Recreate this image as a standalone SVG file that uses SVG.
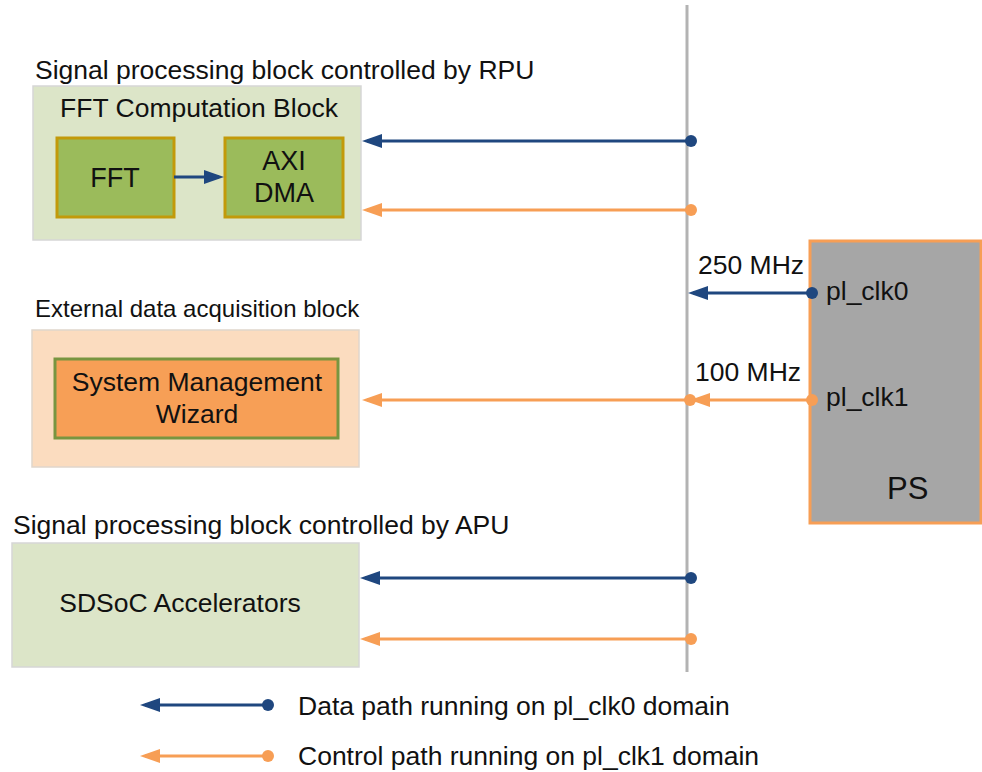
<svg xmlns="http://www.w3.org/2000/svg" width="982" height="772" viewBox="0 0 982 772">
<style>
text{font-family:"Liberation Sans",Arial,sans-serif;fill:#111;font-size:26.5px}
.blue{stroke:#1f477f;stroke-width:3;fill:none}
.org{stroke:#f79e55;stroke-width:3;fill:none}
.grp{fill:#dce5c8;stroke:#d6d6d6;stroke-width:1.5}
.green{fill:#9bbb5b;stroke:#c29a0a;stroke-width:3}
</style>
<defs>
<marker id="ab" viewBox="0 0 20 14" refX="15" refY="7" markerWidth="20" markerHeight="14" markerUnits="userSpaceOnUse" orient="auto"><path d="M0,0 L20,7 L0,14 Z" fill="#1f477f"/></marker>
<marker id="ao" viewBox="0 0 20 14" refX="15" refY="7" markerWidth="20" markerHeight="14" markerUnits="userSpaceOnUse" orient="auto"><path d="M0,0 L20,7 L0,14 Z" fill="#f79e55"/></marker>
<marker id="db" viewBox="0 0 12 12" refX="6" refY="6" markerWidth="12" markerHeight="12" markerUnits="userSpaceOnUse"><circle cx="6" cy="6" r="6" fill="#1f477f"/></marker>
<marker id="do" viewBox="0 0 12 12" refX="6" refY="6" markerWidth="12" markerHeight="12" markerUnits="userSpaceOnUse"><circle cx="6" cy="6" r="6" fill="#f79e55"/></marker>
</defs>
<rect width="982" height="772" fill="#fff"/>

<g id="rpu">
<text x="35" y="79">Signal processing block controlled by RPU</text>
<rect class="grp" x="33" y="86" width="328" height="154"/>
<text x="199" y="117" text-anchor="middle">FFT Computation Block</text>
</g>
<g id="fft">
<rect class="green" x="57" y="138" width="117" height="79"/>
<text x="115" y="187" text-anchor="middle" style="font-size:27px">FFT</text>
</g>
<g id="axidma">
<rect class="green" x="225" y="138" width="118" height="79"/>
<text x="284" y="170" text-anchor="middle" style="font-size:27px">AXI</text>
<text x="284" y="202" text-anchor="middle" style="font-size:27px">DMA</text>
</g>

<g id="ext">
<text x="35" y="317" style="font-size:24px">External data acquisition block</text>
<rect x="32" y="330" width="327" height="137" fill="#fbdcbf" stroke="#e0d6cc" stroke-width="1.5"/>
</g>
<g id="smw">
<rect x="55" y="359" width="283" height="79" fill="#f79f56" stroke="#789540" stroke-width="3"/>
<text x="197" y="391" text-anchor="middle">System Management</text>
<text x="197" y="423" text-anchor="middle">Wizard</text>
</g>

<g id="apu">
<text x="13" y="534">Signal processing block controlled by APU</text>
<rect class="grp" x="12" y="543" width="347" height="124"/>
<text x="180" y="612" text-anchor="middle">SDSoC Accelerators</text>
</g>

<g id="ps">
<rect x="810" y="241" width="171" height="282" fill="#a6a6a6" stroke="#f79e55" stroke-width="3"/>
<text x="826" y="300">pl_clk0</text>
<text x="826" y="406">pl_clk1</text>
<text x="887" y="499" style="font-size:31px">PS</text>
</g>

<g id="bus">
<line x1="687" y1="5" x2="687" y2="672" stroke="#b3b3b3" stroke-width="3"/>
</g>

<g id="connectors">
<line class="blue" x1="174" y1="177" x2="219" y2="177" marker-end="url(#ab)"/>
<line class="blue" x1="691" y1="141" x2="367" y2="141" marker-start="url(#db)" marker-end="url(#ab)"/>
<line class="org" x1="691" y1="210" x2="367" y2="210" marker-start="url(#do)" marker-end="url(#ao)"/>
<line class="blue" x1="812" y1="293" x2="693" y2="293" marker-start="url(#db)" marker-end="url(#ab)"/>
<line class="org" x1="812" y1="400" x2="695" y2="400" marker-start="url(#do)" marker-end="url(#ao)"/>
<line class="org" x1="690" y1="400" x2="367" y2="400" marker-start="url(#do)" marker-end="url(#ao)"/>
<line class="blue" x1="691" y1="578" x2="365" y2="578" marker-start="url(#db)" marker-end="url(#ab)"/>
<line class="org" x1="691" y1="639" x2="365" y2="639" marker-start="url(#do)" marker-end="url(#ao)"/>
<line class="blue" x1="268" y1="705" x2="145" y2="705" marker-start="url(#db)" marker-end="url(#ab)"/>
<line class="org" x1="268" y1="756" x2="145" y2="756" marker-start="url(#do)" marker-end="url(#ao)"/>
</g>

<g id="labels">
<text x="698" y="274">250 MHz</text>
<text x="695" y="381">100 MHz</text>
<text x="298" y="715">Data path running on pl_clk0 domain</text>
<text x="298" y="765">Control path running on pl_clk1 domain</text>
</g>
</svg>
